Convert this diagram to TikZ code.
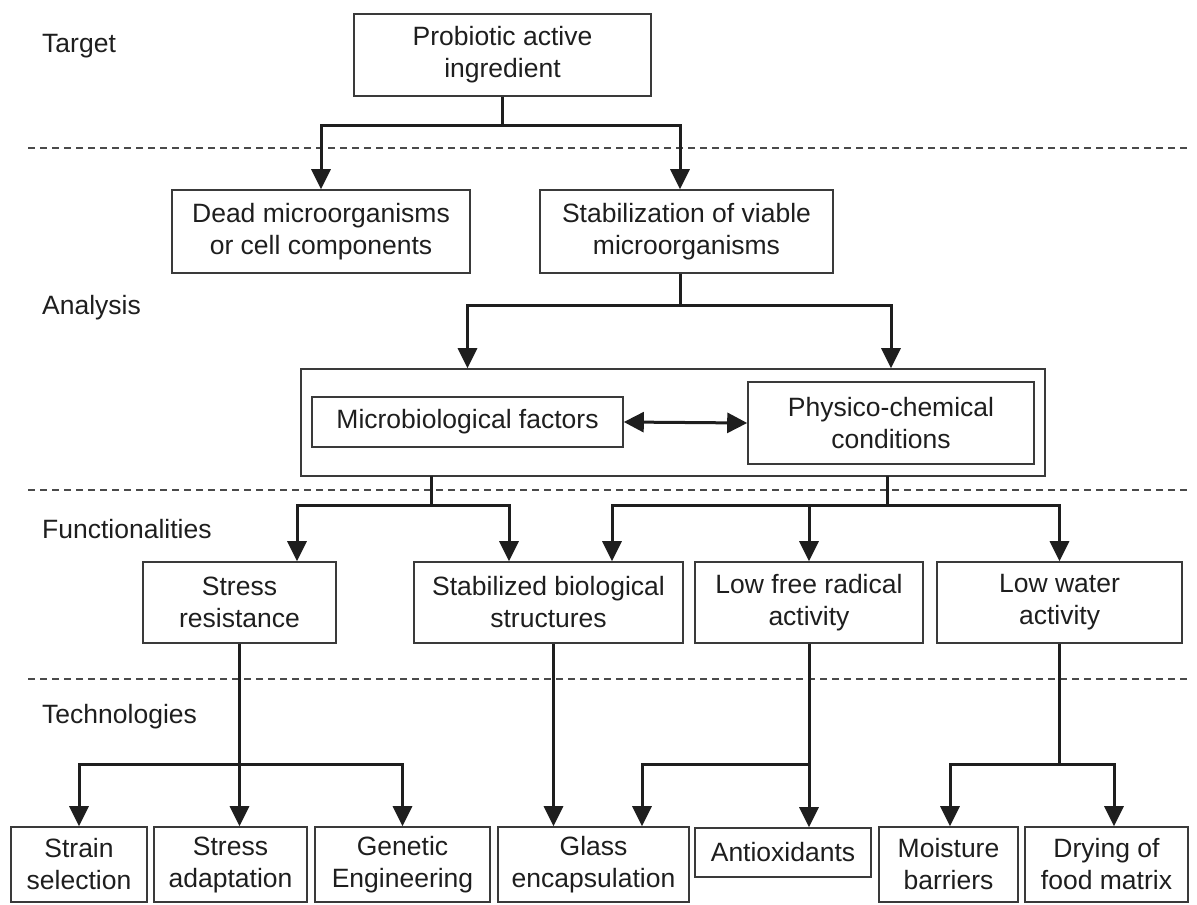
\documentclass[tikz,border=0pt]{standalone}
\usepackage{fontspec}
\setmainfont{Liberation Sans}
\usetikzlibrary{arrows.meta}
\definecolor{linec}{HTML}{1E1E1E}
\definecolor{boxc}{HTML}{3A3A3A}
\definecolor{sepc}{HTML}{4A4A4A}
\definecolor{txtc}{HTML}{1E1E1E}
\newcommand\diagfs{\fontsize{26.5}{32}\selectfont}
\tikzset{
  box/.style={draw=boxc, line width=1.6pt, align=center, inner sep=0pt, font=\diagfs, text=txtc},
  lab/.style={anchor=west, inner sep=0pt, font=\diagfs, text=txtc},
  ln/.style={draw=linec, line width=3pt},
  arr/.style={draw=linec, line width=3pt, -{Triangle[length=20pt,width=19pt]}},
  darr/.style={draw=linec, line width=3pt, {Triangle[length=20pt,width=20pt]}-{Triangle[length=20pt,width=20pt]}},
  sep/.style={draw=sepc, line width=1.4pt, dash pattern=on 7pt off 5pt},
}
\begin{document}
\begin{tikzpicture}[x=1pt,y=-1pt]
\useasboundingbox (0,0) rectangle (1197,905);

% separators
\coordinate (s1a) at (28,148);  \coordinate (s1b) at (1190,148);
\coordinate (s2a) at (28,490);  \coordinate (s2b) at (1190,490);
\coordinate (s3a) at (28,679);  \coordinate (s3b) at (1190,679);
\draw[sep] (s1a) -- (s1b);
\draw[sep] (s2a) -- (s2b);
\draw[sep] (s3a) -- (s3b);

% row labels
\node[lab] (tg) at (42,46) {Target};
\node[lab] (an) at (42,308) {Analysis};
\node[lab] (fn) at (42,529) {Functionalities};
\node[lab] (tc) at (42,717) {Technologies};

% boxes
\node[box, minimum width=297, minimum height=82] (prob) at (502.5,55) {Probiotic active\\ingredient};
\node[box, minimum width=298, minimum height=83] (dead) at (321,231.5) {Dead microorganisms\\or cell components};
\node[box, minimum width=293, minimum height=83] (stab) at (686.5,231.5) {Stabilization of viable\\microorganisms};

\node[box, minimum width=744, minimum height=107] (outer) at (673,422.5) {};
\node[box, minimum width=311, minimum height=50] (micro) at (467.5,422) {Microbiological factors};
\node[box, minimum width=286, minimum height=82] (phys) at (891,423) {Physico-chemical\\conditions};

\node[box, minimum width=193, minimum height=81] (stress) at (239.5,602.5) {Stress\\resistance};
\node[box, minimum width=269, minimum height=81] (stabil) at (548.5,602.5) {Stabilized biological\\structures};
\node[box, minimum width=228, minimum height=81] (lowfr) at (809,602.5) {Low free radical\\activity};
\node[box, minimum width=245, minimum height=81] (loww) at (1059.5,602.5) {Low water\\activity};

\node[box, minimum width=136, minimum height=75] (strain) at (79,864.5) {Strain\\selection};
\node[box, minimum width=153, minimum height=75] (adapt) at (230.5,864.5) {Stress\\adaptation};
\node[box, minimum width=175, minimum height=75] (genet) at (402.5,864.5) {Genetic\\Engineering};
\node[box, minimum width=191, minimum height=75] (glass) at (593.5,864.5) {Glass\\encapsulation};
\node[box, minimum width=176, minimum height=49] (antiox) at (783,852.5) {Antioxidants};
\node[box, minimum width=139, minimum height=75] (moist) at (948.5,864.5) {Moisture\\barriers};
\node[box, minimum width=163, minimum height=75] (drying) at (1106.5,864.5) {Drying of\\food matrix};

% junctions
\coordinate (j1) at (502.5,125);
\coordinate (j2) at (680,305);
\coordinate (o1) at (431,476);
\coordinate (j3) at (431,505);
\coordinate (o2) at (887,476);
\coordinate (j4) at (887,505);
\coordinate (j5) at (239.5,764);
\coordinate (j6) at (809,764);
\coordinate (j7) at (1059.5,764);

% target -> analysis
\draw[arr] (prob.south) -- (j1) -| (dead.north);
\draw[arr] (j1) -| ([xshift=-6.5pt]stab.north);
\draw[ln] ([xshift=-6.5pt]stab.south) -- (j2);
\draw[arr] (j2) -| (micro.north |- outer.north);
\draw[arr] (j2) -| (phys.north |- outer.north);
\draw[darr] (micro.east) -- (phys.west);

% analysis -> functionalities
\draw[ln] (o1) -- (j3);
\draw[arr] (j3) -| ([xshift=57.5pt]stress.north);
\draw[arr] (j3) -| ([xshift=-39.5pt]stabil.north);
\draw[ln] (o2) -- (j4);
\draw[arr] (j4) -| ([xshift=63.5pt]stabil.north);
\draw[arr] (j4) -| (lowfr.north);
\draw[arr] (j4) -| (loww.north);

% functionalities -> technologies
\draw[arr] (stress.south) -- (j5 |- adapt.north);
\draw[arr] (j5) -| (strain.north);
\draw[arr] (j5) -| (genet.north);
\draw[arr] ([xshift=5pt]stabil.south) -- ([xshift=5pt]stabil.south |- glass.north);
\draw[arr] (lowfr.south) -- (j6 |- antiox.north);
\draw[arr] (j6) -| ([xshift=48.5pt]glass.north);
\draw[ln] (loww.south) -- (j7);
\draw[arr] (j7) -| ([xshift=1.5pt]moist.north);
\draw[arr] (j7) -| ([xshift=7.5pt]drying.north);
\end{tikzpicture}
\end{document}
